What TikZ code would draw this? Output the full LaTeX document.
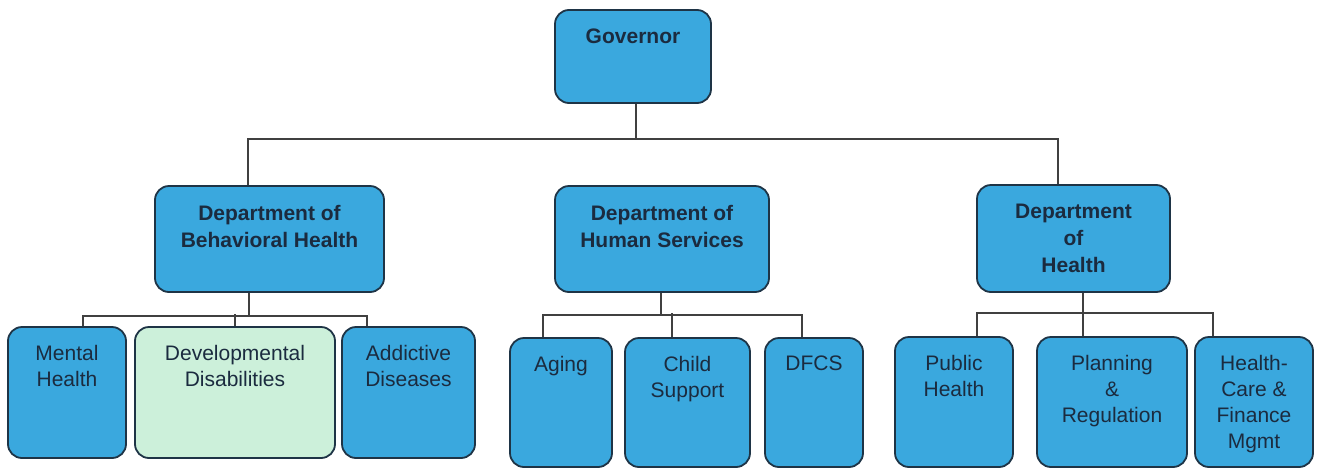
\documentclass[tikz,border=0pt]{standalone}
\usepackage{fontspec}
\setmainfont{Liberation Sans}
\definecolor{boxblue}{RGB}{58,168,222}
\definecolor{boxgreen}{RGB}{204,240,218}
\definecolor{boxline}{RGB}{30,52,70}
\definecolor{inktext}{RGB}{27,43,63}
\tikzset{
  orgbox/.style={draw=boxline, line width=1.8pt, fill=boxblue, rounded corners=14pt, inner sep=0pt},
  headtext/.style={anchor=north, yshift=-20pt, inner sep=0pt, align=center, text=inktext, font=\fontsize{21}{27}\selectfont\bfseries},
  unittext/.style={anchor=north, yshift=-19pt, inner sep=0pt, align=center, text=inktext, font=\fontsize{21}{26}\selectfont},
  link/.style={draw=black!75, line width=1.4pt}
}
\begin{document}
\begin{tikzpicture}[x=1pt,y=-1pt]
	\useasboundingbox (0,0) rectangle (1317,469);
	% top level
	\node[orgbox, minimum width=156, minimum height=93, label={[headtext]north:Governor}] (gov) at (633,56.5) {};
	% departments
	\node[orgbox, minimum width=229, minimum height=106, label={[headtext]north:Department of\\Behavioral Health}] (bh) at (269.5,239) {};
	\node[orgbox, minimum width=214, minimum height=106, label={[headtext]north:Department of\\Human Services}] (hs) at (662,239) {};
	\node[orgbox, minimum width=193, minimum height=107, label={[headtext]north:Department\\of\\Health}] (hl) at (1073.5,238.5) {};
	% units
	\node[orgbox, minimum width=118, minimum height=131, label={[unittext]north:Mental\\Health}] (mh) at (67,392.5) {};
	\node[orgbox, fill=boxgreen, minimum width=200, minimum height=131, label={[unittext]north:Developmental\\Disabilities}] (dd) at (235,392.5) {};
	\node[orgbox, minimum width=133, minimum height=131, label={[unittext]north:Addictive\\Diseases}] (ad) at (408.5,392.5) {};
	\node[orgbox, minimum width=102, minimum height=129, label={[unittext]north:Aging}] (ag) at (561,402.5) {};
	\node[orgbox, minimum width=125, minimum height=129, label={[unittext]north:Child\\Support}] (cs) at (687.5,402.5) {};
	\node[orgbox, minimum width=98, minimum height=129, label={[unittext]north:DFCS}] (df) at (814,402.5) {};
	\node[orgbox, minimum width=118, minimum height=130, label={[unittext]north:Public\\Health}] (ph) at (954,402) {};
	\node[orgbox, minimum width=150, minimum height=130, label={[unittext]north:Planning\\\&\\Regulation}] (pr) at (1112,402) {};
	\node[orgbox, minimum width=118, minimum height=130, label={[unittext]north:Health-\\Care \&\\Finance\\Mgmt}] (hc) at (1254,402) {};
	% connectors
	\coordinate (topbus) at (636,139);
	\draw[link] ([xshift=3]gov.south) -- (topbus);
	\draw[link] ([xshift=-21.5]bh.north) |- (topbus) -| ([xshift=-15.5]hl.north);
	\draw[link] ([xshift=-20.5]bh.south) -- ++(0,23) -| ([xshift=16]mh.north);
	\draw[link] ([xshift=-20.5]bh.south) -- ++(0,23) -| ([xshift=-41.5]ad.north);
	\draw[link] (dd.north) -- ++(0,-12);
	\draw[link] ([xshift=-1]hs.south) -- ++(0,22) -| ([xshift=-18]ag.north);
	\draw[link] ([xshift=-1]hs.south) -- ++(0,22) -| ([xshift=-12]df.north);
	\draw[link] ([xshift=-15.5]cs.north) -- ++(0,-24);
	\draw[link] ([xshift=9.5]hl.south) -- ([xshift=-29]pr.north);
	\draw[link] ([xshift=23]ph.north) -- ++(0,-23) -| ([xshift=-41]hc.north);
\end{tikzpicture}
\end{document}
